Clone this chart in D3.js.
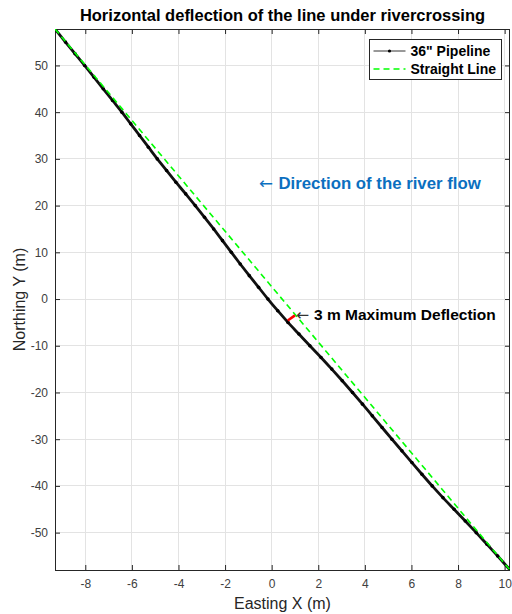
<!DOCTYPE html>
<html><head><meta charset="utf-8">
<script src="https://cdn.jsdelivr.net/npm/d3@7/dist/d3.min.js"></script>
<style>body{margin:0;background:#fff;} text{font-family:"Liberation Sans",Arial,Helvetica,sans-serif;}</style>
</head><body><svg id="c" width="512" height="614"></svg>
<script>
// Pipeline (black) points
const pipeY = [57.8,55,52.5,50,47.5,45,42.5,40,37.5,35,32.5,30,27.5,25,22.5,20,17.5,15,12.5,10,7.5,5,2.5,0,-2.5,-5,-7.5,-10,-12.5,-15,-17.5,-20,-22.5,-25,-27.5,-30,-32.5,-35,-37.5,-40,-42.5,-45,-47.5,-50,-52.5,-55,-58];
const pipeX = [-9.30,-8.85,-8.44,-8.03,-7.63,-7.23,-6.83,-6.43,-6.05,-5.67,-5.29,-4.91,-4.51,-4.11,-3.69,-3.28,-2.88,-2.49,-2.11,-1.73,-1.35,-0.96,-0.56,-0.16,0.26,0.70,1.17,1.64,2.12,2.58,3.03,3.47,3.90,4.32,4.74,5.16,5.59,6.02,6.45,6.89,7.35,7.83,8.31,8.78,9.24,9.70,10.23];
// Straight line (green dashed)
const lineX = [-9.30, 10.23];
const lineY = [57.8, -58];
// Maximum deflection marker (red)
const deflX = [0.69, 1.0];
const deflY = [-4.6, -3.5];
const xTicks = [-8,-6,-4,-2,0,2,4,6,8,10];
const yTicks = [-50,-40,-30,-20,-10,0,10,20,30,40,50];
const xDomain = [-9.30, 10.23];
const yDomain = [-58, 57.8];

const svg = d3.select("#c");
const m = {l:55, t:29, r:2, b:44};
const W = 512 - m.l - m.r, H = 614 - m.t - m.b;
const x = d3.scaleLinear().domain(xDomain).range([m.l, m.l+W]);
const y = d3.scaleLinear().domain(yDomain).range([m.t+H, m.t]);
const axisCol = "#262626";
const fmt = d => String(d);

// grid
const g = svg.append("g");
g.selectAll(".gx").data(xTicks).enter().append("line")
 .attr("x1",d=>x(d)).attr("x2",d=>x(d)).attr("y1",m.t).attr("y2",m.t+H)
 .attr("stroke","#e3e3e3").attr("stroke-width",1).attr("shape-rendering","crispEdges");
g.selectAll(".gy").data(yTicks).enter().append("line")
 .attr("y1",d=>y(d)).attr("y2",d=>y(d)).attr("x1",m.l).attr("x2",m.l+W)
 .attr("stroke","#e3e3e3").attr("stroke-width",1).attr("shape-rendering","crispEdges");

// axes
const xa = svg.append("g").attr("transform",`translate(0,${m.t+H})`)
 .call(d3.axisBottom(x).tickValues(xTicks).tickSize(-5).tickPadding(9).tickFormat(fmt));
const xt = svg.append("g").attr("transform",`translate(0,${m.t})`)
 .call(d3.axisTop(x).tickValues(xTicks).tickSize(-5).tickFormat(""));
const ya = svg.append("g").attr("transform",`translate(${m.l},0)`)
 .call(d3.axisLeft(y).tickValues(yTicks).tickSize(-5).tickPadding(7).tickFormat(fmt));
const yr = svg.append("g").attr("transform",`translate(${m.l+W},0)`)
 .call(d3.axisRight(y).tickValues(yTicks).tickSize(-5).tickFormat(""));
[xa,xt,ya,yr].forEach(a=>{
  a.selectAll("path").attr("stroke",axisCol).attr("stroke-width",1);
  a.selectAll("line").attr("stroke",axisCol);
  a.selectAll("text").attr("fill","#404040").attr("font-size",12).attr("font-family","Liberation Sans, Arial, sans-serif");
});
xa.selectAll("path").attr("d",`M${m.l},0.5H${m.l+W}`);
xt.selectAll("path").attr("d",`M${m.l},0.5H${m.l+W}`);
ya.selectAll("path").attr("d",`M0.5,${m.t}V${m.t+H}`);
yr.selectAll("path").attr("d",`M-0.5,${m.t}V${m.t+H}`);

// clip
svg.append("clipPath").attr("id","clip").append("rect").attr("x",m.l).attr("y",m.t).attr("width",W).attr("height",H);
const plot = svg.append("g").attr("clip-path","url(#clip)");

const pipe = pipeX.map((v,i)=>[v,pipeY[i]]);
const ln = d3.line().x(d=>x(d[0])).y(d=>y(d[1]));
const lnSmooth = d3.line().x(d=>x(d[0])).y(d=>y(d[1])).curve(d3.curveCatmullRom.alpha(0.5));
plot.append("path").datum(pipe).attr("d",lnSmooth).attr("fill","none").attr("stroke","#111").attr("stroke-width",2.8);
plot.selectAll(".pt").data(pipe).enter().append("circle")
 .attr("cx",d=>x(d[0])).attr("cy",d=>y(d[1])).attr("r",1.8).attr("fill","#000");

const straight = lineX.map((v,i)=>[v,lineY[i]]);
plot.append("path").datum(straight).attr("d",ln).attr("fill","none")
 .attr("stroke","#00ff00").attr("stroke-width",1.6).attr("stroke-dasharray","6,4");

const defl = deflX.map((v,i)=>[v,deflY[i]]);
plot.append("path").datum(defl).attr("d",ln).attr("fill","none").attr("stroke","#ff0000").attr("stroke-width",2.6);

// annotations
const ann = svg.append("text").attr("x",x(1.05)).attr("y",y(-3.5)+5).attr("font-size",15.5).attr("font-weight","bold").attr("fill","#000");
ann.append("tspan").attr("font-weight","normal").attr("font-family","DejaVu Sans").attr("fill","#333").text("\u2190 ");
ann.append("tspan").text("3 m Maximum Deflection");

const riv = svg.append("text").attr("x",259).attr("y",189).attr("font-size",16.8).attr("font-weight","bold").attr("fill","#0b6fc0");
riv.append("tspan").attr("font-weight","normal").attr("font-family","DejaVu Sans").text("\u2190 ");
riv.append("tspan").text("Direction of the river flow");

// title & labels
svg.append("text").attr("x",m.l+W/2).attr("y",21).attr("text-anchor","middle").attr("font-size",16.5).attr("font-weight","bold").attr("fill","#000")
 .text("Horizontal deflection of the line under rivercrossing");
svg.append("text").attr("x",m.l+W/2).attr("y",609).attr("text-anchor","middle").attr("font-size",16).attr("fill","#262626").text("Easting X (m)");
svg.append("text").attr("transform",`translate(25,${m.t+H/2}) rotate(-90)`).attr("text-anchor","middle").attr("font-size",16).attr("fill","#262626").text("Northing Y (m)");

// legend
const lg = svg.append("g").attr("transform","translate(369.5,39.5)");
lg.append("rect").attr("width",132).attr("height",40).attr("fill","#fff").attr("stroke","#262626").attr("stroke-width",1);
lg.append("line").attr("x1",4).attr("x2",36).attr("y1",11.5).attr("y2",11.5).attr("stroke","#333").attr("stroke-width",1);
lg.append("circle").attr("cx",20).attr("cy",11.5).attr("r",1.6).attr("fill","#000");
lg.append("line").attr("x1",4).attr("x2",36).attr("y1",29.5).attr("y2",29.5).attr("stroke","#00ff00").attr("stroke-width",1.6).attr("stroke-dasharray","6,4");
lg.append("text").attr("x",41).attr("y",16.5).attr("font-size",14).attr("font-weight","bold").attr("fill","#000").text("36\" Pipeline");
lg.append("text").attr("x",41).attr("y",34.5).attr("font-size",14).attr("font-weight","bold").attr("fill","#000").text("Straight Line");
</script></body></html>
